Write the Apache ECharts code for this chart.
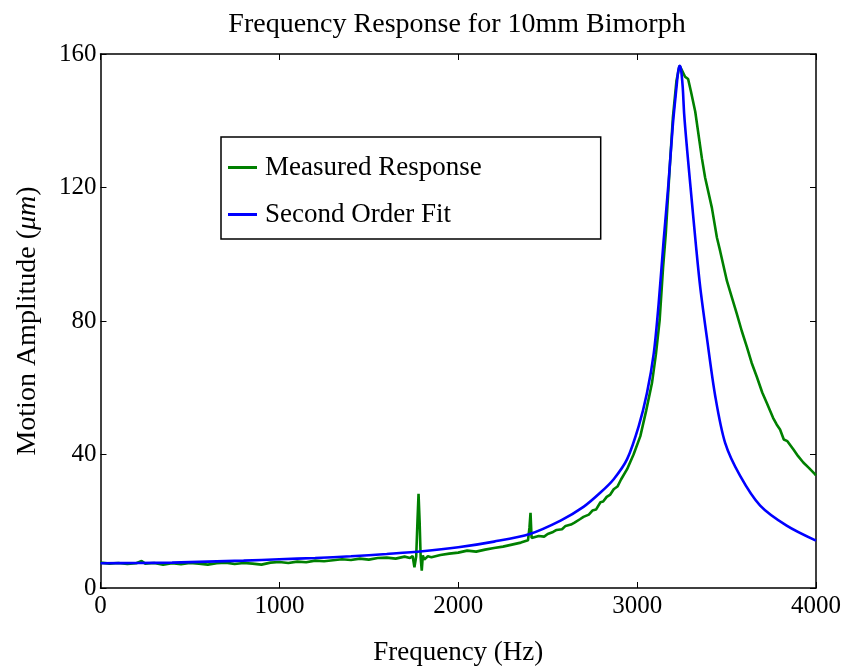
<!DOCTYPE html>
<html><head><meta charset="utf-8">
<script src="https://cdn.jsdelivr.net/npm/echarts@6/dist/echarts.min.js"></script>
<style>html,body{margin:0;padding:0;background:#fff}#c{width:846px;height:671px}</style>
</head><body><div id="c"></div>
<script>
const titleText = 'Frequency Response for 10mm Bimorph';
const xName = 'Frequency (Hz)';
const yName = 'Motion Amplitude ({i|μm})';
const seriesNames = ['Measured Response', 'Second Order Fit'];
const xTicks = [0, 1000, 2000, 3000, 4000];
const yTicks = [0, 40, 80, 120, 160];

// Measured response: [frequency Hz, amplitude µm]
const measuredFreq = [0,50,100,150,200,230,250,300,350,400,450,500,550,600,650,700,750,800,850,900,950,1000,1050,1100,1150,1200,1250,1300,1350,1400,1450,1500,1550,1600,1650,1700,1730,1745,1755,1765,1772,1778,1784,1790,1796,1802,1810,1830,1850,1900,1950,2000,2050,2100,2150,2200,2250,2300,2350,2390,2398,2404,2410,2420,2450,2480,2500,2530,2550,2580,2600,2630,2650,2680,2700,2730,2750,2770,2795,2810,2830,2850,2869,2890,2910,2944,2980,3018,3050,3083,3105,3126,3145,3160,3180,3200,3220,3237,3250,3268,3285,3300,3325,3362,3380,3418,3446,3464,3502,3530,3557,3585,3613,3640,3669,3700,3725,3760,3780,3799,3820,3840,3874,3900,3929,3960,3994,4000];
const measuredVal = [7.6,7.3,7.5,7.2,7.4,8.1,7.3,7.5,7.0,7.4,7.1,7.5,7.3,7.0,7.4,7.6,7.2,7.5,7.3,7.0,7.6,7.8,7.5,7.9,7.7,8.2,8.0,8.3,8.6,8.4,8.8,8.5,9.0,9.1,8.8,9.4,9.0,9.6,6.2,9.5,20,28.2,20,9.0,5.2,9.8,8.5,9.5,9.2,9.9,10.3,10.6,11.2,10.9,11.5,12.0,12.4,13.0,13.6,14.3,18,22.5,15.0,14.6,15.6,15.4,16.2,16.8,17.4,17.6,18.6,19.0,19.6,20.6,21.3,22.0,23.2,23.5,25.7,25.9,27.3,28.0,29.6,30.4,32.5,35.6,40,45.5,53,61.4,70,80.3,96,106,124,141,152,156.5,155.2,153.2,152.5,149,142.7,128.8,123,113.9,105,101,92,87,82.2,77,72.3,67.5,63.3,58.5,55.4,51,49,47.5,44.5,44,41.5,39.5,37.6,36,34.1,33.8];

// Second order fit: [frequency Hz, amplitude µm]
const fitFreq = [0,200,400,600,800,1000,1200,1400,1600,1800,2000,2200,2400,2572,2700,2795,2869,2944,3009,3055,3093,3120,3148,3175,3200,3220,3230,3237,3245,3255,3263,3280,3297,3330,3353,3390,3437,3492,3576,3688,3836,4000];
const fitVal = [7.4,7.5,7.6,7.9,8.2,8.6,9.0,9.5,10.2,11.0,12.2,13.9,16.2,20.2,24.3,28.6,32.6,38.6,48.5,58.4,70.3,85,104,121,139,150,155,156.5,155.5,150,142,131,121,102,90,75,57.4,43.5,33.6,24.7,18.7,14.2];

const pairs = (xs, ys) => xs.map((x, i) => [x, ys[i]]);
const FONT = 'Liberation Serif';
const tickFmt = v => String(v);

const chart = echarts.init(document.getElementById('c'));
chart.setOption({
  animation: false,
  backgroundColor: '#fff',
  title: {
    text: titleText, left: 452, top: 6, textAlign: 'center',
    textStyle: {fontFamily: FONT, fontSize: 28, fontWeight: 'normal', color: '#000'}
  },
  legend: {
    orient: 'vertical', left: 221, top: 137,
    padding: [17, 119, 11, 7], itemGap: 20,
    borderColor: '#000', borderWidth: 1.5,
    icon: 'rect', itemWidth: 29, itemHeight: 3,
    textStyle: {fontFamily: FONT, fontSize: 27, color: '#000', padding: [0, 0, 0, 3]},
    data: seriesNames
  },
  grid: {left: 100.5, right: 30, top: 54, bottom: 78, containLabel: false},
  xAxis: [{
    type: 'value', min: xTicks[0], max: xTicks[xTicks.length - 1], interval: 1000,
    name: xName, nameLocation: 'middle', nameGap: 51,
    nameTextStyle: {fontFamily: FONT, fontSize: 27, color: '#000'},
    axisLine: {show: true, onZero: false, lineStyle: {color: '#000', width: 1.5}},
    axisTick: {show: true, inside: true, length: 6, lineStyle: {color: '#000'}},
    axisLabel: {fontFamily: FONT, fontSize: 25, color: '#000', margin: 6, formatter: tickFmt},
    splitLine: {show: false}
  }, {
    type: 'value', position: 'top', min: xTicks[0], max: xTicks[xTicks.length - 1], interval: 1000,
    axisLine: {show: true, onZero: false, lineStyle: {color: '#000', width: 1.5}},
    axisTick: {show: true, inside: true, length: 6, lineStyle: {color: '#000'}},
    axisLabel: {show: false}, splitLine: {show: false}
  }],
  yAxis: [{
    type: 'value', min: yTicks[0], max: yTicks[yTicks.length - 1], interval: 40,
    name: yName, nameLocation: 'middle', nameGap: 59, nameRotate: 90,
    nameTextStyle: {fontFamily: FONT, fontSize: 28, color: '#000',
      rich: {i: {fontFamily: FONT, fontSize: 28, fontStyle: 'italic', color: '#000'}}},
    axisLine: {show: true, onZero: false, lineStyle: {color: '#000', width: 1.5}},
    axisTick: {show: true, inside: true, length: 6, lineStyle: {color: '#000'}},
    axisLabel: {fontFamily: FONT, fontSize: 25, color: '#000', margin: 4, formatter: tickFmt},
    splitLine: {show: false}
  }, {
    type: 'value', position: 'right', min: yTicks[0], max: yTicks[yTicks.length - 1], interval: 40,
    axisLine: {show: true, onZero: false, lineStyle: {color: '#000', width: 1.5}},
    axisTick: {show: true, inside: true, length: 6, lineStyle: {color: '#000'}},
    axisLabel: {show: false}, splitLine: {show: false}
  }],
  series: [{
    name: seriesNames[0], type: 'line', xAxisIndex: 0, yAxisIndex: 0,
    data: pairs(measuredFreq, measuredVal), showSymbol: false, symbol: 'none',
    lineStyle: {color: '#008000', width: 2.6}, itemStyle: {color: '#008000'}, z: 2
  }, {
    name: seriesNames[1], type: 'line', xAxisIndex: 0, yAxisIndex: 0,
    data: pairs(fitFreq, fitVal), showSymbol: false, symbol: 'none', smooth: 0.3,
    lineStyle: {color: '#0000ff', width: 2.6}, itemStyle: {color: '#0000ff'}, z: 3
  }]
});
</script></body></html>
